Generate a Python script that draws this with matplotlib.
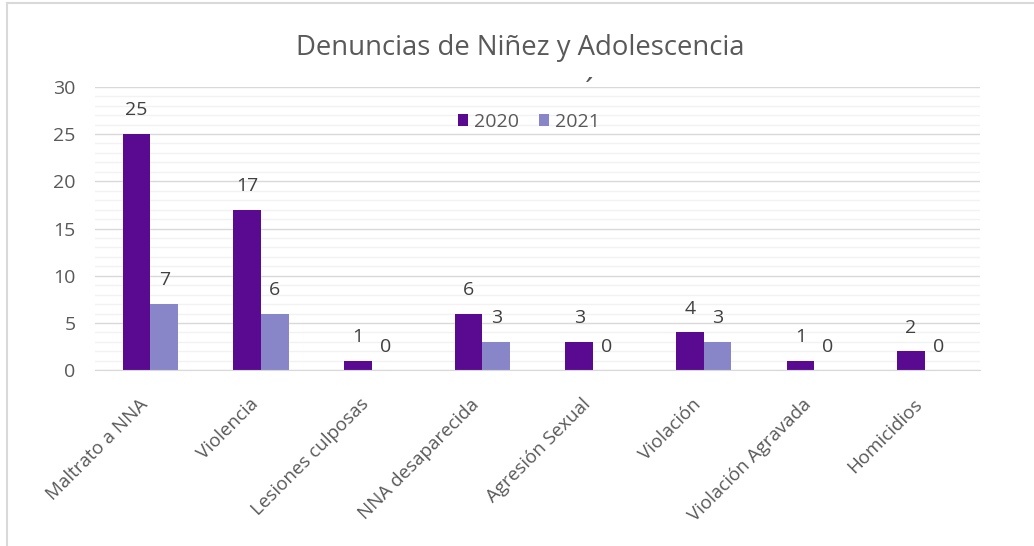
import matplotlib.pyplot as plt
import matplotlib.transforms as mtransforms
import numpy as np
from matplotlib.ticker import MultipleLocator

categories = ['Maltrato a NNA', 'Violencia', 'Lesiones culposas', 'NNA desaparecida',
              'Agresión Sexual', 'Violación', 'Violación Agravada', 'Homicidios']
vals_2020 = [25, 17, 1, 6, 3, 4, 1, 2]
vals_2021 = [7, 6, 0, 3, 0, 3, 0, 0]

plt.rcParams['font.family'] = ['Open Sans', 'DejaVu Sans']
grey = '#595959'

fig = plt.figure(figsize=(10.34, 5.46), dpi=100)
ax = fig.add_axes([0.092, 0.322, 0.856, 0.519])

x = np.arange(len(categories))
w = 0.25
b1 = ax.bar(x - w / 2, vals_2020, w, color='#5a0a91', label='2020', zorder=3)
b2 = ax.bar(x + w / 2, vals_2021, w, color='#8886c8', label='2021', zorder=3)

for bars in (b1, b2):
    for r in bars:
        ax.annotate(str(int(r.get_height())), (r.get_x() + r.get_width() / 2, r.get_height()),
                    xytext=(0, 17), textcoords='offset points', ha='center', va='center',
                    fontsize=14, color='#404040')

ax.set_xlim(-0.5, len(categories) - 0.5)
ax.set_ylim(0, 30)
ax.yaxis.set_major_locator(MultipleLocator(5))
ax.yaxis.set_minor_locator(MultipleLocator(1))
ax.grid(axis='y', which='minor', color='#f2f2f2', lw=1, zorder=0)
ax.grid(axis='y', which='major', color='#d9d9d9', lw=1, zorder=1)
for s in ['top', 'right', 'left']:
    ax.spines[s].set_visible(False)
ax.spines['bottom'].set_color('#d9d9d9')
ax.spines['bottom'].set_zorder(4)

ax.set_xticks(x)
ax.set_xticklabels(categories, rotation=45, ha='right', va='top', rotation_mode='anchor')
ax.tick_params(axis='x', length=0, pad=18, labelsize=13.5, labelcolor=grey)
ax.tick_params(axis='y', which='both', length=0, pad=14, labelsize=14, labelcolor=grey)
shift = mtransforms.ScaledTranslation(-12 / 100, 0, fig.dpi_scale_trans)
for lab in ax.get_xticklabels():
    lab.set_transform(lab.get_transform() + shift)

fig.text(0.503, 0.913, 'Denuncias de Niñez y Adolescencia', ha='center', va='center',
         fontsize=19.8, color=grey)
fig.text(0.570, 0.83, '´', ha='center', va='center', fontsize=22, color=grey)

ax.legend(loc='center', bbox_to_anchor=(0.49, 0.875), ncol=2, frameon=False,
          fontsize=14, labelcolor=grey, handlelength=0.55, handleheight=0.55,
          handletextpad=0.3, columnspacing=1.0)

# chart border (left and top visible)
fig.add_artist(plt.Line2D([0.007, 0.007], [0, 0.995], color='#d9d9d9', lw=1.5))
fig.add_artist(plt.Line2D([0.007, 1], [0.995, 0.995], color='#d9d9d9', lw=1.5))

fig.savefig('out.png', dpi=100)
